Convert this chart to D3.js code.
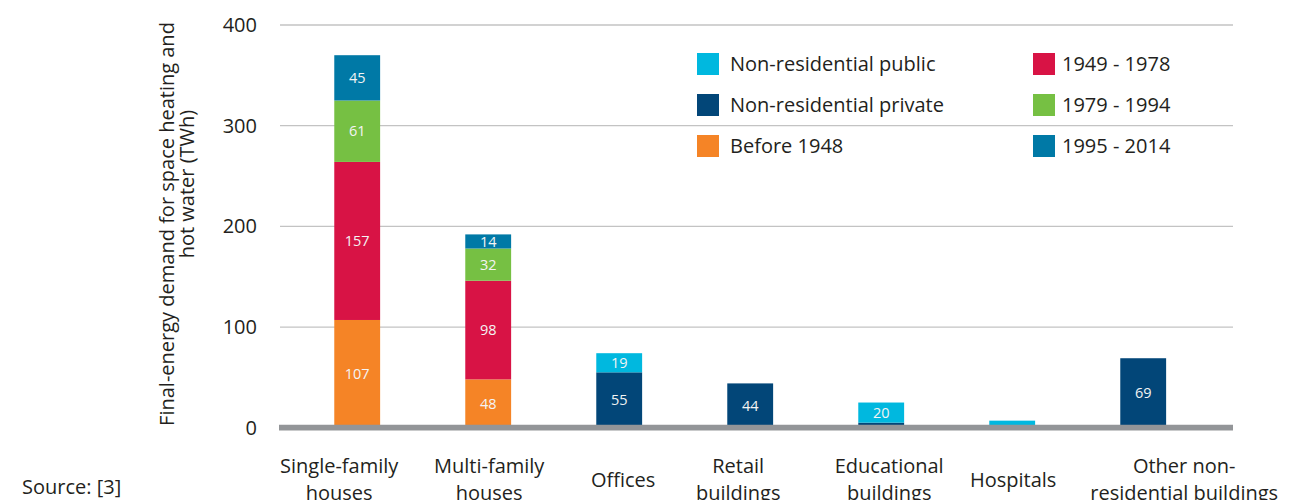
<!DOCTYPE html>
<html><head><meta charset="utf-8">
<script src="https://cdn.jsdelivr.net/npm/d3@7"></script>
<style>body{margin:0;background:#fff;} text{font-family:"Open Sans",sans-serif;}</style>
</head><body>
<svg id="chart" width="1315" height="500"></svg>
<script>
const categories = [["Single-family","houses"],["Multi-family","houses"],["Offices"],["Retail","buildings"],["Educational","buildings"],["Hospitals"],["Other non-","residential buildings"]];
const seriesNames = ["Before 1948","1949 - 1978","1979 - 1994","1995 - 2014","Non-residential private","Non-residential public"];
const before1948 = [107,48,0,0,0,0,0];
const p1949_1978 = [157,98,0,0,0,0,0];
const p1979_1994 = [61,32,0,0,0,0,0];
const p1995_2014 = [45,14,0,0,0,0,0];
const nonResPrivate = [0,0,55,44,5,0,69];
const nonResPublic = [0,0,19,0,20,7,0];
const yTicks = [0,100,200,300,400];
const colors = ["#f58426","#d81345","#76c043","#0079a6","#024678","#00b8df"];
const legendOrder = [[5,4,0],[1,2,3]];
// layout: horizontal nudge of each category label relative to its bar
const labelNudge = [-18,1,4,-12,8,1,41];

const svg = d3.select("#chart");
const seriesVals = [before1948,p1949_1978,p1979_1994,p1995_2014,nonResPrivate,nonResPublic];
const data = categories.map((c,i)=>{const o={cat:i}; seriesNames.forEach((s,j)=>o[s]=seriesVals[j][i]); return o;});
const stack = d3.stack().keys(seriesNames)(data);

const x = d3.scaleBand().domain(d3.range(categories.length)).range([291.7,1208.7]).paddingInner(0.65).paddingOuter(0.325);
const y = d3.scaleLinear().domain([0,400]).range([427.7,25]);

// gridlines
svg.append("g").selectAll("line").data(yTicks.filter(d=>d>0)).join("line")
  .attr("x1",280).attr("x2",1233).attr("y1",d=>y(d)).attr("y2",d=>y(d))
  .attr("stroke","#c3c3c3").attr("stroke-width",1.3);

// y axis
const yAxis = svg.append("g").attr("transform","translate(280,0)")
  .call(d3.axisLeft(y).tickValues(yTicks).tickSize(0).tickPadding(23));
yAxis.select(".domain").remove();
yAxis.selectAll("text").attr("font-size",20).attr("fill","#231f20").attr("font-family","Open Sans");

// bars
const layers = svg.append("g").selectAll("g").data(stack).join("g").attr("fill",(d,i)=>colors[i]);
layers.selectAll("rect").data(d=>d.filter(p=>p[1]-p[0]>0)).join("rect")
  .attr("x",d=>x(d.data.cat)).attr("width",x.bandwidth())
  .attr("y",d=>y(d[1])).attr("height",d=>y(d[0])-y(d[1]));

// labels
layers.selectAll("text").data(d=>d.filter(p=>p[1]-p[0]>=10)).join("text")
  .attr("x",d=>x(d.data.cat)+x.bandwidth()/2).attr("y",d=>y((d[0]+d[1])/2))
  .attr("dy","0.35em").attr("text-anchor","middle").attr("font-size",14.5).attr("fill","#f4f4f4")
  .text(d=>d[1]-d[0]);

// baseline
svg.append("line").attr("x1",279).attr("x2",1233).attr("y1",y(0)).attr("y2",y(0))
  .attr("stroke","#939598").attr("stroke-width",5.7);

// category labels
const cl = svg.append("g").selectAll("text").data(categories).join("text")
  .attr("text-anchor","middle").attr("font-size",20).attr("fill","#231f20")
  .attr("x",(d,i)=>x(i)+x.bandwidth()/2+labelNudge[i])
  .attr("y",d=>d.length>1?473:487);
cl.selectAll("tspan").data(d=>d).join("tspan")
  .attr("x",function(){return d3.select(this.parentNode).attr("x");})
  .attr("dy",(d,i)=>i===0?0:27).text(d=>d);

// y title
const yt = svg.append("g");
yt.append("text").attr("transform","translate(174,224) rotate(-90)").attr("text-anchor","middle")
  .attr("font-size",20).attr("fill","#231f20").text("Final-energy demand for space heating and");
yt.append("text").attr("transform","translate(194,184) rotate(-90)").attr("text-anchor","middle")
  .attr("font-size",20).attr("fill","#231f20").text("hot water (TWh)");

// legend
const lg = svg.append("g");
legendOrder.forEach((col,ci)=>{
  col.forEach((si,ri)=>{
    const gx = ci===0?697:1033, gy = 64 + ri*41;
    lg.append("rect").attr("x",gx).attr("y",gy-11).attr("width",22).attr("height",22).attr("fill",colors[si]);
    lg.append("text").attr("x",ci===0?730:1062).attr("y",gy).attr("dy","0.35em")
      .attr("font-size",20).attr("fill","#231f20").text(seriesNames[si]);
  });
});

// source
svg.append("text").attr("x",22).attr("y",494).attr("font-size",20).attr("fill","#231f20").text("Source: [3]");
</script>
</body></html>
